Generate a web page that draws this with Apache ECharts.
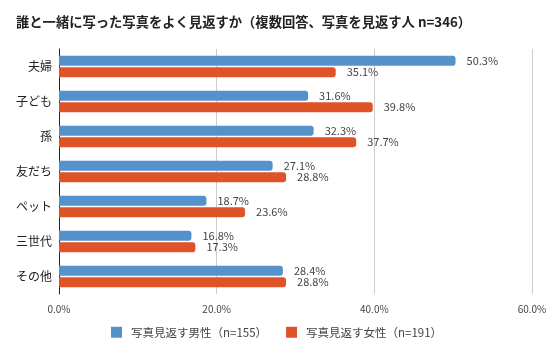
<!DOCTYPE html>
<html><head><meta charset="utf-8">
<script src="https://cdn.jsdelivr.net/npm/echarts@6/dist/echarts.min.js"></script>
<style>html,body{margin:0;padding:0;background:#fff}#c{width:551px;height:356px}</style>
</head><body><div id="c"></div>
<script>
const title = '誰と一緒に写った写真をよく見返すか（複数回答、写真を見返す人 n=346）';
const categories = ['夫婦','子ども','孫','友だち','ペット','三世代','その他'];
const seriesNames = ['写真見返す男性（n=155）','写真見返す女性（n=191）'];
const male = [50.3, 31.6, 32.3, 27.1, 18.7, 16.8, 28.4];
const female = [35.1, 39.8, 37.7, 28.8, 23.6, 17.3, 28.8];
const xTicks = [0, 20, 40, 60];

const font = '"Noto Sans CJK JP", "Noto Sans", sans-serif';
const chart = echarts.init(document.getElementById('c'), null, {renderer:'canvas'});
const lbl = {show:true, position:'right', distance:11, color:'#444', fontSize:11, fontFamily:font,
  formatter: p => p.value.toFixed(1) + '%'};
chart.setOption({
  animation:false,
  textStyle:{fontFamily:font},
  title:{text:title, left:11, top:10, textStyle:{fontSize:13.3, fontWeight:'bold', color:'#222', fontFamily:font}},
  legend:{bottom:13, left:106, itemWidth:11, itemHeight:11, itemGap:19, icon:'rect',
    textStyle:{fontSize:11.5, color:'#444', fontFamily:font, padding:[0,0,0,4]}, data:seriesNames},
  grid:{left:59, right:19, top:49, height:245, containLabel:false},
  xAxis:{type:'value', min:xTicks[0], max:xTicks[xTicks.length-1], interval:20,
    axisLabel:{formatter:v=>v.toFixed(1)+'%', color:'#444', fontSize:10, margin:10},
    splitLine:{lineStyle:{color:'#ccc'}}, axisLine:{show:false}, axisTick:{show:false}},
  yAxis:{type:'category', data:categories, inverse:true,
    axisLine:{show:true, lineStyle:{color:'#222'}}, axisTick:{show:false},
    axisLabel:{color:'#222', fontSize:12, margin:7}},
  series:[
    {name:seriesNames[0], type:'bar', data:male, barWidth:10, barGap:'15%',
     itemStyle:{color:'#5591cb', borderRadius:[0,3,3,0]}, label:lbl},
    {name:seriesNames[1], type:'bar', data:female, barWidth:10,
     itemStyle:{color:'#de5328', borderRadius:[0,3,3,0]}, label:lbl}
  ]
});
</script></body></html>
